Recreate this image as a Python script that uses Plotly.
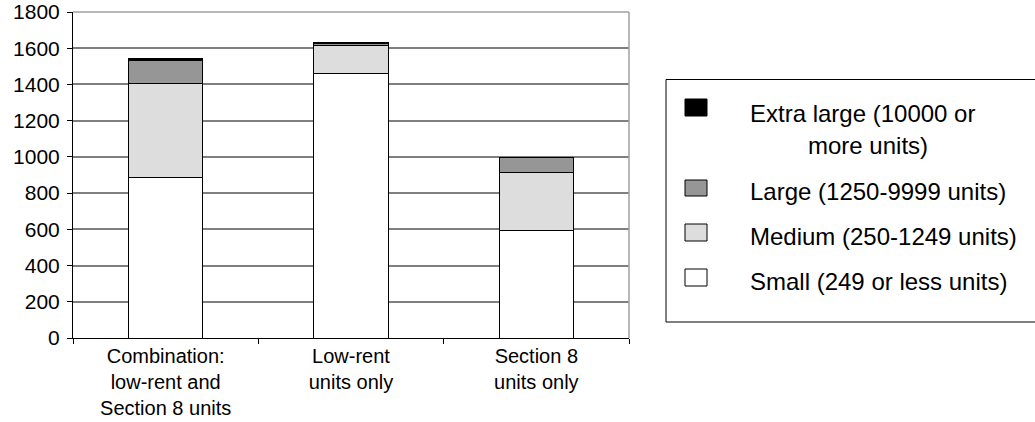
import plotly.graph_objects as go

# ---- data ----
categories = ["Combination:<br>low-rent and<br>Section 8 units",
              "Low-rent<br>units only",
              "Section 8<br>units only"]
series_names = ["Small (249 or less units)",
                "Medium (250-1249 units)",
                "Large (1250-9999 units)",
                "Extra large (10000 or more units)"]
small = [888, 1458, 595]
medium = [517, 158, 317]
large = [128, 8, 84]
extra_large = [13, 6, 2]
y_ticks = [0, 200, 400, 600, 800, 1000, 1200, 1400, 1600, 1800]

# ---- styles ----
colors = ["#ffffff", "#dddddd", "#969696", "#000000"]
FONT = "Liberation Sans, Arial, sans-serif"
W, H = 1035, 422
L, R, T, B = 73, 629, 12, 338  # plot area in pixels


def px(x):
    return (x - L) / (R - L)


def py(y):
    return (B - y) / (B - T)


fig = go.Figure()
for name, vals, col in zip(series_names, [small, medium, large, extra_large], colors):
    fig.add_trace(go.Bar(
        x=categories, y=vals, name=name,
        marker=dict(color=col, line=dict(color="#000000", width=1)),
        showlegend=False,
    ))

shapes = []
# top & right plot border (lighter gray)
shapes.append(dict(type="line", xref="paper", yref="paper", x0=0, x1=1, y0=1, y1=1,
                   line=dict(color="#a0a0a0", width=1.5), layer="above"))
shapes.append(dict(type="line", xref="paper", yref="paper", x0=1, x1=1, y0=0, y1=1,
                   line=dict(color="#a0a0a0", width=1.5), layer="above"))
# legend box
shapes.append(dict(type="rect", xref="paper", yref="paper",
                   x0=px(666), x1=px(1045), y0=py(322), y1=py(79.5),
                   line=dict(color="#000000", width=1), fillcolor="rgba(0,0,0,0)"))

annotations = []
# legend entries (top to bottom): series index, square top/bottom, text lines
legend_rows = [
    (3, 99, 116, [("Extra large (10000 or", 748, 114), ("more units)", 806, 145)]),
    (2, 180, 196, [("Large (1250-9999 units)", 748, 192)]),
    (1, 224, 241, [("Medium (250-1249 units)", 748, 236)]),
    (0, 269, 286, [("Small (249 or less units)", 748, 281)]),
]
for idx, y0, y1, texts in legend_rows:
    shapes.append(dict(type="rect", xref="paper", yref="paper",
                       x0=px(685), x1=px(707), y0=py(y1), y1=py(y0),
                       line=dict(color="#000000", width=1), fillcolor=colors[idx]))
    for txt, tx, ty in texts:
        annotations.append(dict(text=txt, xref="paper", yref="paper",
                                x=px(tx), y=py(ty), xanchor="left", yanchor="middle",
                                showarrow=False, font=dict(size=24, color="#000000", family=FONT)))

fig.update_layout(
    barmode="stack",
    bargap=0.6,
    width=W, height=H,
    margin=dict(l=L, r=W - R, t=T, b=H - B, pad=0, autoexpand=False),
    paper_bgcolor="#ffffff",
    plot_bgcolor="#ffffff",
    font=dict(family=FONT, size=21, color="#000000"),
    shapes=shapes,
    annotations=annotations,
    xaxis=dict(
        showgrid=False, showline=True, linecolor="#000000", linewidth=1,
        ticks="outside", tickson="boundaries", ticklen=5, tickcolor="#000000",
        tickfont=dict(size=20), zeroline=False, automargin=False,
    ),
    yaxis=dict(
        range=[0, 1800], tickvals=y_ticks, showgrid=True, gridcolor="#7f7f7f", gridwidth=1.5,
        showline=True, linecolor="#000000", linewidth=1,
        ticks="outside", ticklen=5, tickcolor="#000000",
        tickfont=dict(size=21), zeroline=False, automargin=False,
        ticklabelstandoff=3,
    ),
)

fig.write_html("out.html", config={"displayModeBar": False},
               post_script="document.body.style.margin='0';")
